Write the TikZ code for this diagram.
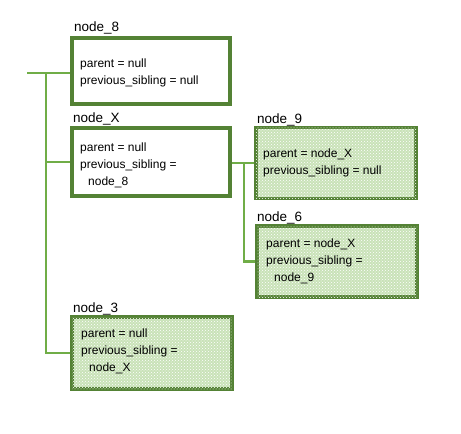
\documentclass[tikz,border=0pt]{standalone}
\usepackage{fontspec}
\setmainfont{Liberation Sans}
\usetikzlibrary{positioning,patterns}
\definecolor{boxGreen}{HTML}{548235}
\definecolor{linkGreen}{HTML}{70AD47}
\definecolor{dotGreen}{HTML}{C9E2B8}
\tikzset{
  objbox/.style={draw=boxGreen, line width=3.2pt, fill=white, minimum width=#1, inner sep=0pt},
  objbox/.default=158pt,
  dotbox/.style={objbox=160pt, fill=dotGreen, postaction={pattern=crosshatch dots, pattern color=white}},
  caption/.style={font=\fontsize{13.5}{15}\selectfont, anchor=base west, inner sep=0pt},
  body/.style={font=\fontsize{12}{17}\selectfont, align=left, anchor=north west, inner sep=0pt},
  link/.style={draw=linkGreen, line width=2.8pt}
}
\begin{document}
\begin{tikzpicture}[x=1pt,y=-1pt]
\useasboundingbox (0,0) rectangle (461,434);
% objects
\node[objbox, minimum height=66pt] (n8) at (151,71) {};
\node[objbox, minimum height=68pt] (nX) at (151,162) {};
\node[dotbox, minimum height=71pt] (n9) at (336,163) {};
\node[dotbox, minimum height=71pt] (n6) at (337,261.5) {};
\node[dotbox, minimum height=72pt] (n3) at (152,353) {};
% captions
\node[caption] (c8) at (74,31) {node\_8};
\node[caption] (cX) at (73,122) {node\_X};
\node[caption] (c9) at (257,123) {node\_9};
\node[caption] (c6) at (257,221) {node\_6};
\node[caption] (c3) at (73,312) {node\_3};
% fields
\node[body] (t8) at (80,59) {parent = null\\previous\_sibling = null};
\node[body] (tX) at (80,142.5) {parent = null\\previous\_sibling =\\\hspace*{8pt}node\_8};
\node[body] (t9) at (263,148.5) {parent = node\_X\\previous\_sibling = null};
\node[body] (t6) at (266,238.5) {parent = node\_X\\previous\_sibling =\\\hspace*{8pt}node\_9};
\node[body] (t3) at (81,328.5) {parent = null\\previous\_sibling =\\\hspace*{8pt}node\_X};
% links
\coordinate (root) at (27,73);
\coordinate (trunk) at (46,73);
\coordinate (fork) at (244,163);
\draw[link] (root) -- (root -| n8.west);
\draw[link] (trunk) |- (nX.west);
\draw[link] (trunk) |- (n3.west);
\draw[link] (nX.east |- fork) -- (n9.west);
\draw[link] (fork) |- (n6.west);
\end{tikzpicture}
\end{document}
